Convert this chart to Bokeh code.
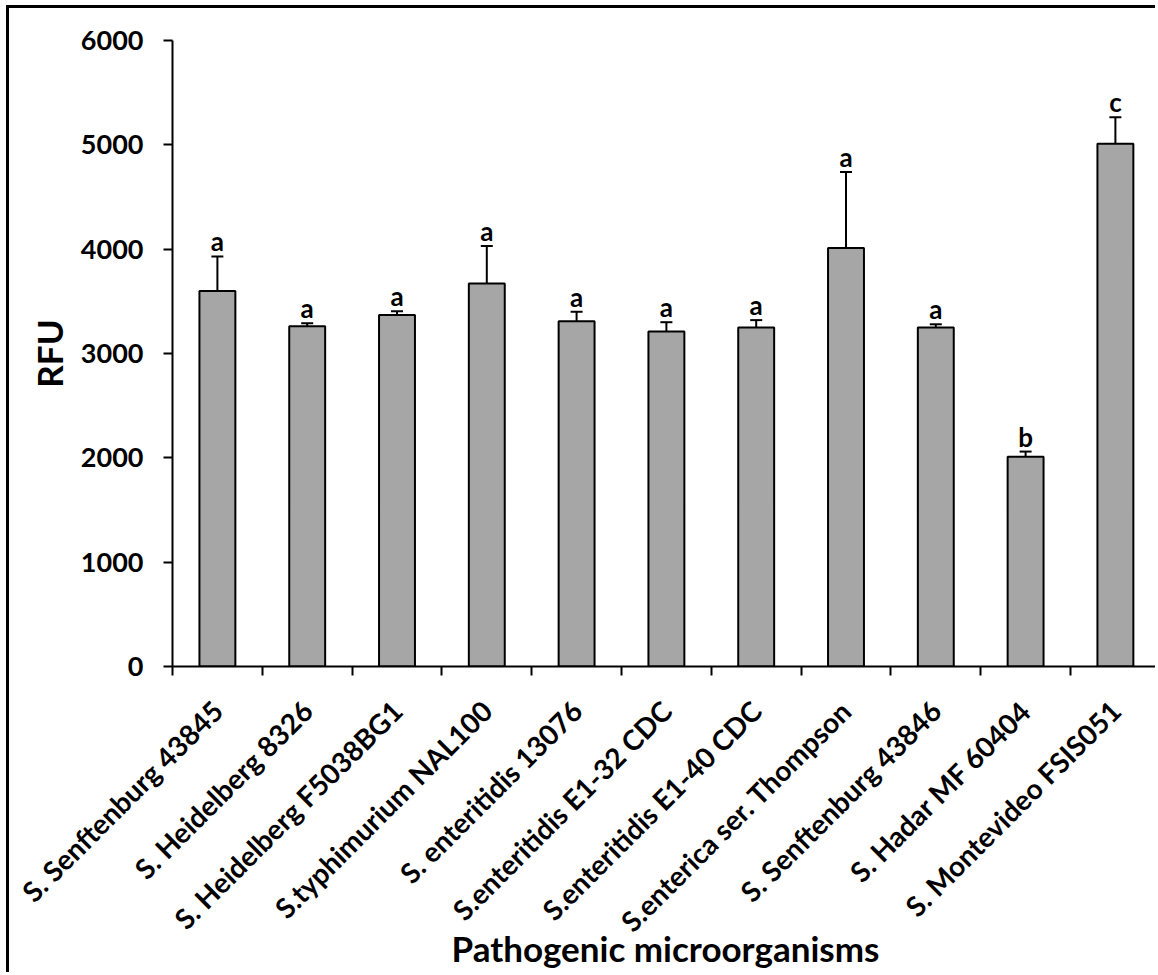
import numpy as np
from bokeh.plotting import figure
from bokeh.models import ColumnDataSource, FixedTicker, Whisker, TeeHead, Range1d
from bokeh.core.properties import value
from bokeh.embed import file_html
from bokeh.resources import INLINE

# ---- data ----
categories = [
    "S. Senftenburg 43845",
    "S. Heidelberg 8326",
    "S. Heidelberg F5038BG1",
    "S.typhimurium NAL100",
    "S. enteritidis 13076",
    "S.enteritidis E1-32 CDC",
    "S.enteritidis E1-40 CDC",
    "S.enterica ser. Thompson",
    "S. Senftenburg 43846",
    "S. Hadar MF 60404",
    "S. Montevideo FSIS051",
]
rfu_mean = [3600, 3260, 3370, 3670, 3310, 3210, 3250, 4010, 3250, 2010, 5010]
rfu_sd = [330, 30, 35, 360, 90, 90, 70, 730, 30, 50, 255]
letters = ["a", "a", "a", "a", "a", "a", "a", "a", "a", "b", "c"]
y_ticks = [0, 1000, 2000, 3000, 4000, 5000, 6000]

FONT = "Lato"

n = len(categories)
centers = [i + 0.5 for i in range(n)]
bounds = [float(i) for i in range(n + 1)]
upper = [m + s for m, s in zip(rfu_mean, rfu_sd)]

src = ColumnDataSource(dict(x=centers, mean=rfu_mean, upper=upper, letter=letters))

p = figure(
    width=1149, height=967,
    x_range=Range1d(0, 10.98), y_range=Range1d(0, 6000),
    output_backend="svg", toolbar_location=None,
    min_border_left=163, min_border_right=0, min_border_top=32, min_border_bottom=309,
)
p.styles = {
    "margin-left": "6px", "margin-top": "5px",
    "border-left": "3px solid black", "border-top": "3px solid black",
}
p.outline_line_color = None
p.xgrid.visible = False
p.ygrid.visible = False
p.background_fill_color = "white"
p.border_fill_color = "white"

p.vbar(x="x", top="mean", bottom=0, width=0.4, source=src,
       fill_color="#A6A6A6", line_color="black", line_width=2)

wh = Whisker(source=src, base="x", upper="upper", lower="mean", dimension="height",
             line_color="black", line_width=2,
             upper_head=TeeHead(size=12, line_color="black", line_width=2),
             lower_head=None, level="overlay")
p.add_layout(wh)

p.text(x="x", y="upper", text="letter", source=src,
       text_font=value(FONT), text_font_style="bold", text_font_size="26px",
       text_align="center", text_baseline="alphabetic", y_offset=-15, text_color="black")

# x axis
xa = p.xaxis[0]
xa.ticker = FixedTicker(ticks=centers, minor_ticks=bounds)
xa.major_label_overrides = {c: name for c, name in zip(centers, categories)}
xa.major_label_orientation = np.pi / 4
xa.major_tick_out = 0
xa.major_tick_in = 0
xa.minor_tick_out = 9
xa.minor_tick_in = 0
xa.minor_tick_line_color = "black"
xa.minor_tick_line_width = 2
xa.axis_line_color = "black"
xa.axis_line_width = 2
xa.major_label_text_font = FONT
xa.major_label_text_font_style = "bold"
xa.major_label_text_font_size = "28px"
xa.major_label_text_color = "black"
xa.major_label_standoff = 30
xa.axis_label = "Pathogenic microorganisms"
xa.axis_label_text_font = FONT
xa.axis_label_text_font_style = "bold"
xa.axis_label_text_font_size = "35px"
xa.axis_label_text_color = "black"
xa.axis_label_standoff = -26

# y axis
ya = p.yaxis[0]
ya.ticker = FixedTicker(ticks=y_ticks)
ya.major_tick_out = 9
ya.major_tick_in = 0
ya.minor_tick_line_color = None
ya.major_tick_line_color = "black"
ya.major_tick_line_width = 2
ya.axis_line_color = "black"
ya.axis_line_width = 2
ya.major_label_text_font = FONT
ya.major_label_text_font_style = "bold"
ya.major_label_text_font_size = "27px"
ya.major_label_text_color = "black"
ya.major_label_standoff = 20
ya.axis_label = "RFU"
ya.axis_label_text_font = FONT
ya.axis_label_text_font_style = "bold"
ya.axis_label_text_font_size = "35px"
ya.axis_label_text_color = "black"
ya.axis_label_standoff = 8

open("out.html", "w").write(file_html(p, INLINE))
